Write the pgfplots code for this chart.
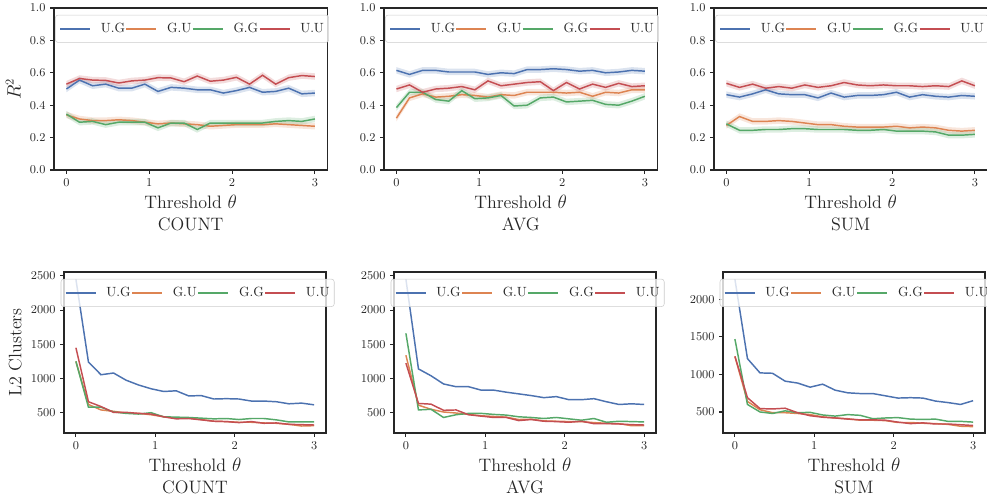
\documentclass[border=0pt]{standalone}
\usepackage{pgfplots}
\usepackage{pgfplotstable}
\pgfplotsset{compat=1.18}
\usepgfplotslibrary{fillbetween}

\definecolor{cUG}{HTML}{4C72B0}
\definecolor{cGU}{HTML}{DD8452}
\definecolor{cGG}{HTML}{55A868}
\definecolor{cUU}{HTML}{C44E52}
\definecolor{ink}{HTML}{262626}

\newcommand\tickfont{\fontsize{9.4}{11}\selectfont}
\newcommand\labelfont{\fontsize{13.5}{16.2}\selectfont}
\newcommand\legfont{\fontsize{10}{12}\selectfont}

% ---------- R^2 data ----------
\pgfplotstableread{
x ug gu gg uu
0     0.500 0.340 0.345 0.530
0.158 0.555 0.315 0.295 0.565
0.316 0.520 0.305 0.300 0.555
0.474 0.530 0.305 0.280 0.553
0.632 0.505 0.310 0.295 0.537
0.789 0.505 0.305 0.295 0.550
0.947 0.530 0.295 0.295 0.555
1.105 0.485 0.285 0.260 0.570
1.263 0.510 0.290 0.290 0.568
1.421 0.505 0.285 0.290 0.545
1.579 0.495 0.280 0.250 0.580
1.737 0.495 0.270 0.290 0.548
1.895 0.475 0.275 0.290 0.555
2.053 0.490 0.280 0.290 0.572
2.211 0.510 0.280 0.290 0.530
2.368 0.480 0.280 0.290 0.585
2.526 0.485 0.285 0.300 0.530
2.684 0.505 0.280 0.305 0.570
2.842 0.470 0.275 0.300 0.583
3     0.475 0.270 0.315 0.577
}\countR

\pgfplotstableread{
x ug gu gg uu
0     0.615 0.320 0.385 0.500
0.158 0.590 0.445 0.480 0.525
0.316 0.615 0.470 0.480 0.480
0.474 0.615 0.450 0.435 0.500
0.632 0.605 0.455 0.425 0.505
0.789 0.605 0.465 0.490 0.515
0.947 0.605 0.460 0.440 0.495
1.105 0.590 0.450 0.445 0.550
1.263 0.600 0.465 0.460 0.520
1.421 0.595 0.460 0.395 0.530
1.579 0.620 0.480 0.400 0.540
1.737 0.620 0.480 0.445 0.545
1.895 0.625 0.480 0.450 0.490
2.053 0.620 0.475 0.420 0.540
2.211 0.610 0.480 0.425 0.500
2.368 0.615 0.455 0.430 0.530
2.526 0.600 0.480 0.405 0.510
2.684 0.605 0.475 0.400 0.535
2.842 0.615 0.495 0.425 0.515
3     0.610 0.495 0.455 0.520
}\avgR

\pgfplotstableread{
x ug gu gg uu
0     0.465 0.275 0.285 0.535
0.158 0.450 0.330 0.245 0.510
0.316 0.470 0.300 0.245 0.530
0.474 0.495 0.300 0.250 0.505
0.632 0.470 0.305 0.250 0.515
0.789 0.465 0.300 0.255 0.505
0.947 0.465 0.290 0.255 0.525
1.105 0.445 0.280 0.250 0.510
1.263 0.475 0.280 0.250 0.520
1.421 0.450 0.270 0.250 0.540
1.579 0.460 0.265 0.245 0.525
1.737 0.460 0.265 0.245 0.520
1.895 0.465 0.265 0.250 0.525
2.053 0.480 0.270 0.240 0.520
2.211 0.450 0.260 0.240 0.520
2.368 0.465 0.265 0.240 0.515
2.526 0.455 0.260 0.235 0.520
2.684 0.450 0.245 0.215 0.515
2.842 0.460 0.240 0.215 0.550
3     0.455 0.245 0.220 0.520
}\sumR

% ---------- L2 cluster data ----------
\pgfplotstableread{
x ug gu gg uu
0     2450 1250 1250 1450
0.158 1240  620  580  660
0.316 1055  540  580  590
0.474 1080  520  510  505
0.632  975  495  490  505
0.789  905  490  480  490
0.947  850  470  500  480
1.105  810  440  440  440
1.263  820  420  435  410
1.421  745  420  430  415
1.579  750  400  420  395
1.737  700  375  410  375
1.895  705  370  415  370
2.053  700  360  400  355
2.211  670  360  415  370
2.368  670  350  415  345
2.526  660  345  395  350
2.684  630  330  365  330
2.842  640  305  365  325
3      615  310  365  320
}\countL

\pgfplotstableread{
x ug gu gg uu
0     2450 1340 1660 1225
0.158 1140  610  540  635
0.316 1040  550  550  625
0.474  920  510  430  535
0.632  880  495  470  540
0.789  880  475  490  470
0.947  830  455  490  450
1.105  830  445  475  430
1.263  800  435  465  430
1.421  775  400  440  385
1.579  750  405  430  400
1.737  720  380  415  375
1.895  735  375  430  370
2.053  690  370  410  360
2.211  690  370  390  375
2.368  705  355  415  340
2.526  660  345  360  340
2.684  620  340  375  335
2.842  630  310  370  325
3      620  310  365  320
}\avgL

\pgfplotstableread{
x ug gu gg uu
0     2265 1240 1470 1240
0.158 1210  640  600  690
0.316 1020  530  500  545
0.474 1015  490  480  540
0.632  910  490  515  550
0.789  885  480  490  490
0.947  830  465  495  450
1.105  870  435  460  430
1.263  790  420  445  420
1.421  755  410  465  405
1.579  745  390  455  395
1.737  745  390  410  395
1.895  715  385  420  390
2.053  685  360  425  365
2.211  690  360  405  345
2.368  685  350  400  355
2.526  645  345  405  340
2.684  625  335  375  340
2.842  600  310  375  330
3      650  305  365  320
}\sumL

\newcommand\band[3]{%
  \addplot[name path=#2U, draw=none, forget plot] table[x=x, y expr=\thisrow{#2}+0.02] {#1};
  \addplot[name path=#2L, draw=none, forget plot] table[x=x, y expr=\thisrow{#2}-0.02] {#1};
  \addplot[fill=#3, fill opacity=0.2, draw=none, forget plot] fill between[of=#2U and #2L];
  \addplot[#3, line width=1.1pt] table[x=x, y=#2] {#1};
}
\newcommand\lineplot[3]{%
  \addplot[#3, line width=1.1pt] table[x=x, y=#2] {#1};
}

\pgfplotsset{
  myax/.style={
    scale only axis,
    axis line style={ink, line width=0.8pt},
    tick align=outside, tick pos=left,
    major tick length=2.8pt,
    every tick/.style={ink, line width=0.8pt},
    xmin=-0.15, xmax=3.15, xtick={0,1,2,3},
    ticklabel style={font=\tickfont, text=ink},
    label style={font=\labelfont, text=ink},
    xlabel style={align=center},
    legend columns=4,
    legend cell align=left,
    legend image code/.code={\draw[##1] (0pt,0pt) -- (22.5pt,0pt);},
    legend style={draw=black!20, fill=white, fill opacity=0.8, text opacity=1,
      rounded corners=2pt, font=\legfont, text=ink,
      inner xsep=3pt, inner ysep=4.5pt, column sep=0pt,
      /tikz/every odd column/.append style={column sep=7pt},
      /tikz/every even column/.append style={column sep=0pt},
      nodes={inner xsep=0.5pt, inner ysep=1.5pt}},
  },
  topax/.style={myax, width=205pt, height=121.5pt, ymin=0, ymax=1,
    ytick={0,0.2,0.4,0.6,0.8,1.0},
    yticklabel style={/pgf/number format/.cd, fixed, fixed zerofill, precision=1},
    legend style={at={(0.505,0.958)}, anchor=north}},
  botax/.style={myax, width=196.5pt, height=120.75pt,
    yticklabel style={/pgf/number format/.cd, fixed, 1000 sep={}},
    legend style={at={(0.51,0.957)}, anchor=north}},
}

\begin{document}
\begin{tikzpicture}
% ---------------- top row ----------------
\begin{axis}[topax, at={(40.5pt,-6pt)}, anchor=north west,
  ylabel={$R^2$}, xlabel={Threshold $\theta$\\COUNT}]
  \band{\countR}{ug}{cUG}
  \band{\countR}{gu}{cGU}
  \band{\countR}{gg}{cGG}
  \band{\countR}{uu}{cUU}
  \legend{U.G, G.U, G.G, U.U}
\end{axis}
\begin{axis}[topax, at={(288pt,-6pt)}, anchor=north west,
  xlabel={Threshold $\theta$\\AVG}]
  \band{\avgR}{ug}{cUG}
  \band{\avgR}{gu}{cGU}
  \band{\avgR}{gg}{cGG}
  \band{\avgR}{uu}{cUU}
  \legend{U.G, G.U, G.G, U.U}
\end{axis}
\begin{axis}[topax, at={(535.5pt,-6pt)}, anchor=north west,
  xlabel={Threshold $\theta$\\SUM}]
  \band{\sumR}{ug}{cUG}
  \band{\sumR}{gu}{cGU}
  \band{\sumR}{gg}{cGG}
  \band{\sumR}{uu}{cUU}
  \legend{U.G, G.U, G.G, U.U}
\end{axis}
% ---------------- bottom row ----------------
\begin{axis}[botax, at={(48pt,-204pt)}, anchor=north west,
  ymin=203, ymax=2557, ytick={500,1000,1500,2000,2500},
  ylabel={L2 Clusters}, xlabel={Threshold $\theta$\\COUNT}]
  \lineplot{\countL}{ug}{cUG}
  \lineplot{\countL}{gu}{cGU}
  \lineplot{\countL}{gg}{cGG}
  \lineplot{\countL}{uu}{cUU}
  \legend{U.G, G.U, G.G, U.U}
\end{axis}
\begin{axis}[botax, at={(295.5pt,-204pt)}, anchor=north west,
  ymin=203, ymax=2557, ytick={500,1000,1500,2000,2500},
  xlabel={Threshold $\theta$\\AVG}]
  \lineplot{\avgL}{ug}{cUG}
  \lineplot{\avgL}{gu}{cGU}
  \lineplot{\avgL}{gg}{cGG}
  \lineplot{\avgL}{uu}{cUU}
  \legend{U.G, G.U, G.G, U.U}
\end{axis}
\begin{axis}[botax, at={(542.25pt,-204pt)}, anchor=north west,
  ymin=220, ymax=2363, ytick={500,1000,1500,2000},
  xlabel={Threshold $\theta$\\SUM}]
  \lineplot{\sumL}{ug}{cUG}
  \lineplot{\sumL}{gu}{cGU}
  \lineplot{\sumL}{gg}{cGG}
  \lineplot{\sumL}{uu}{cUU}
  \legend{U.G, G.U, G.G, U.U}
\end{axis}
\pgfresetboundingbox
\useasboundingbox (0pt,0pt) rectangle (740.25pt,-376.5pt);
\end{tikzpicture}
\end{document}
